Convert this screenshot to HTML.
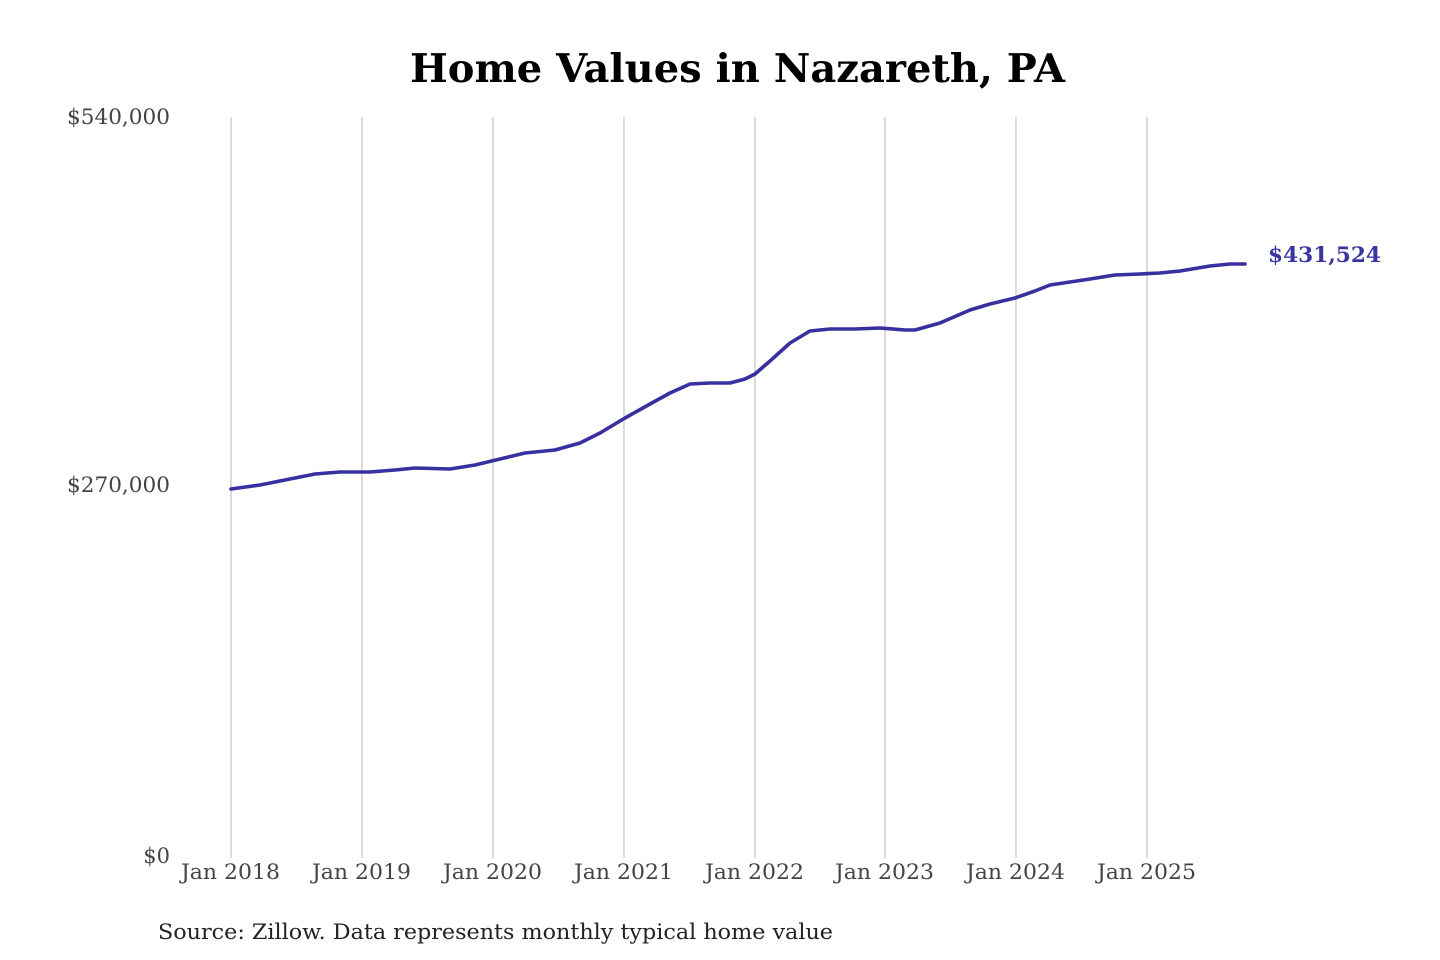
<!DOCTYPE html>
<html><head><meta charset="utf-8"><style>
html,body{margin:0;padding:0;background:#fff;}
svg{display:block;}
</style></head><body>
<svg width="1440" height="960" viewBox="0 0 1440 960" xmlns="http://www.w3.org/2000/svg">
<rect width="1440" height="960" fill="#fff"/>
<text x="410" y="82" textLength="655" lengthAdjust="spacingAndGlyphs" font-family="DejaVu Serif, Liberation Serif, serif" font-weight="bold" font-size="39" fill="#000">Home Values in Nazareth, PA</text>
<g stroke="#c8c8c8" stroke-width="1.3">
<line x1="231" y1="117" x2="231" y2="858"/>
<line x1="362" y1="117" x2="362" y2="858"/>
<line x1="493" y1="117" x2="493" y2="858"/>
<line x1="624" y1="117" x2="624" y2="858"/>
<line x1="755" y1="117" x2="755" y2="858"/>
<line x1="885" y1="117" x2="885" y2="858"/>
<line x1="1016" y1="117" x2="1016" y2="858"/>
<line x1="1147" y1="117" x2="1147" y2="858"/>
</g>
<g font-family="DejaVu Serif, Liberation Serif, serif" font-size="21" fill="#444">
<text x="67" y="124" textLength="103" lengthAdjust="spacingAndGlyphs">$540,000</text>
<text x="67" y="492" textLength="103" lengthAdjust="spacingAndGlyphs">$270,000</text>
<text x="170" y="863" text-anchor="end">$0</text>
<text x="181" y="879" textLength="99" lengthAdjust="spacingAndGlyphs">Jan 2018</text>
<text x="312" y="879" textLength="99" lengthAdjust="spacingAndGlyphs">Jan 2019</text>
<text x="443" y="879" textLength="99" lengthAdjust="spacingAndGlyphs">Jan 2020</text>
<text x="574" y="879" textLength="99" lengthAdjust="spacingAndGlyphs">Jan 2021</text>
<text x="705" y="879" textLength="99" lengthAdjust="spacingAndGlyphs">Jan 2022</text>
<text x="835" y="879" textLength="99" lengthAdjust="spacingAndGlyphs">Jan 2023</text>
<text x="966" y="879" textLength="99" lengthAdjust="spacingAndGlyphs">Jan 2024</text>
<text x="1097" y="879" textLength="99" lengthAdjust="spacingAndGlyphs">Jan 2025</text>
</g>
<polyline fill="none" stroke="#37309e" stroke-width="3.6" stroke-linejoin="round" stroke-linecap="round" points="231,489 260,485 285,480 315,474 340,472 370,472 395,470 415,468 450,469 475,465 500,459 525,453 555,450 580,443 600,433 625,418 650,404 670,393 690,384 710,383 730,383 745,379 755,374 770,361 790,343 810,331 830,329 855,329 880,328 905,330 915,330 940,323 970,310 990,304 1015,298 1035,291 1050,285 1070,282 1090,279 1115,275 1140,274 1160,273 1180,271 1210,266 1230,264 1245,264"/>
<text x="1268" y="262" textLength="113" lengthAdjust="spacingAndGlyphs" font-family="DejaVu Serif, Liberation Serif, serif" font-weight="bold" font-size="21" fill="#3a35a0">$431,524</text>
<text x="158" y="939" textLength="675" lengthAdjust="spacingAndGlyphs" font-family="DejaVu Serif, Liberation Serif, serif" font-size="21" fill="#222">Source: Zillow. Data represents monthly typical home value</text>
</svg>
</body></html>
